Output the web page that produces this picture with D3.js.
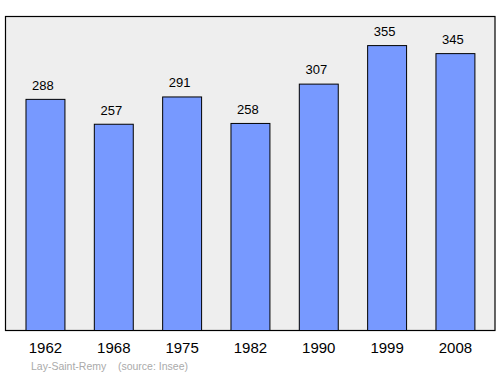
<!DOCTYPE html>
<html><head><meta charset="utf-8">
<script src="https://cdn.jsdelivr.net/npm/d3@7"></script>
<style>body{margin:0;background:#fff}svg{display:block}</style>
</head><body>
<script>
const years = ["1962","1968","1975","1982","1990","1999","2008"];
const population = [288,257,291,258,307,355,345];
const sourceText = "Lay-Saint-Remy    (source: Insee)";

const W=500,H=374;
const svg=d3.select("body").append("svg").attr("width",W).attr("height",H);
const frame={x0:5.5,y0:16.5,x1:495,y1:330.5};
svg.append("rect").attr("x",frame.x0).attr("y",frame.y0).attr("width",frame.x1-frame.x0).attr("height",frame.y1-frame.y0)
  .attr("fill","#eeeeee").attr("stroke","#000").attr("stroke-width",1.2);

const x=d3.scaleBand().domain(years).range([11.3,489.6]).paddingInner(0.43).paddingOuter(0.215);
const y=d3.scaleLinear().domain([0,392]).range([330.5,15.9]);

svg.selectAll("rect.bar").data(population).join("rect").attr("class","bar")
  .attr("x",(d,i)=>x(years[i])).attr("width",x.bandwidth())
  .attr("y",d=>y(d)).attr("height",d=>y(0)-y(d))
  .attr("fill","#7799ff").attr("stroke","#000").attr("stroke-width",1);

svg.selectAll("text.val").data(population).join("text").attr("class","val")
  .attr("x",(d,i)=>x(years[i])+x.bandwidth()/2-2.5).attr("y",d=>y(d)-9.7)
  .attr("text-anchor","middle").attr("font-family","Liberation Sans, Arial, sans-serif").attr("font-size",13)
  .attr("fill","#000").text(d=>d);

const xAxis=d3.axisBottom(x).tickSize(0).tickPadding(0);
const g=svg.append("g").attr("transform",`translate(0,${frame.y1})`).call(xAxis);
g.select(".domain").remove();
g.selectAll("text").attr("dy",0).attr("y",22.3).attr("font-family","Liberation Sans, Arial, sans-serif").attr("font-size",15).attr("fill","#000");

svg.append("text").attr("x",31).attr("y",369.5).attr("font-family","Liberation Sans, Arial, sans-serif")
  .attr("font-size",10.5).attr("fill","#aaaaaa").attr("xml:space","preserve").style("white-space","pre").text(sourceText);
</script>
</body></html>
